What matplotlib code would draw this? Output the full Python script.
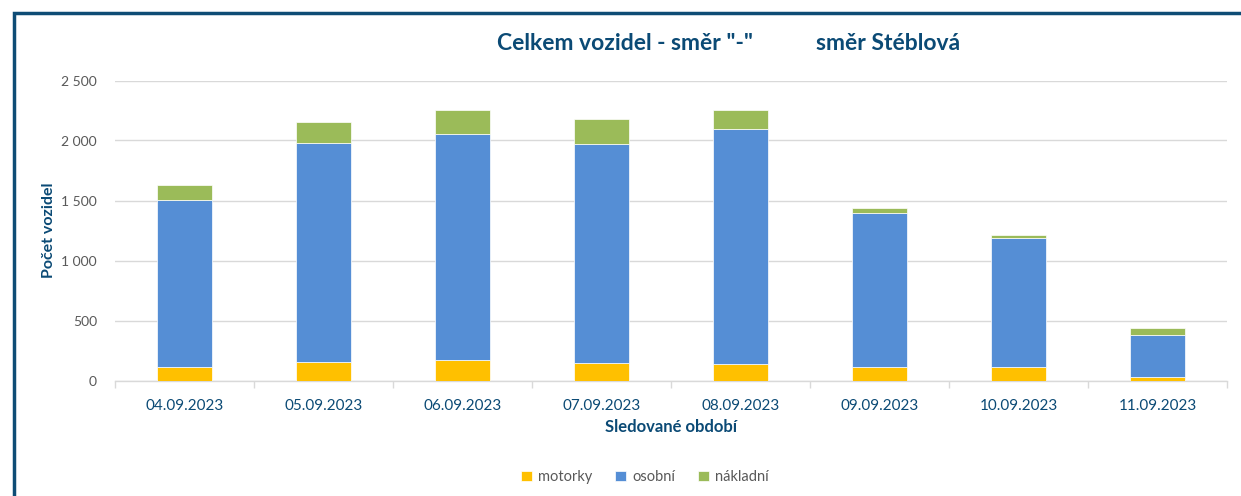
import matplotlib.pyplot as plt
from matplotlib.patches import Rectangle
import numpy as np

dates = ["04.09.2023", "05.09.2023", "06.09.2023", "07.09.2023",
         "08.09.2023", "09.09.2023", "10.09.2023", "11.09.2023"]
motorky = [110, 154, 168, 143, 137, 112, 112, 27]
osobni = [1394, 1828, 1889, 1830, 1956, 1286, 1078, 355]
nakladni = [125, 170, 197, 204, 164, 42, 25, 55]

dark_blue = "#0B4A75"
gray_txt = "#595959"
grid_col = "#d9d9d9"

plt.rcParams['font.family'] = ['Lato', 'DejaVu Sans']

fig = plt.figure(figsize=(12.41, 4.96), dpi=100)
ax = fig.add_axes([115 / 1241, 115.5 / 496, 1112 / 1241, 300 / 496])

x = np.arange(len(dates))
w = 0.4
m = np.array(motorky)
o = np.array(osobni)
n = np.array(nakladni)
ax.bar(x, m, w, color="#FFC000", edgecolor="white", linewidth=0.5, label="motorky", zorder=3)
ax.bar(x, o, w, bottom=m, color="#558ED5", edgecolor="white", linewidth=0.5, label="osobní", zorder=3)
ax.bar(x, n, w, bottom=m + o, color="#9BBB59", edgecolor="white", linewidth=0.5, label="nákladní", zorder=3)

ax.set_xlim(-0.5, len(dates) - 0.5)
ax.set_ylim(0, 2500)
ax.set_yticks(range(0, 2501, 500))
ax.set_yticklabels([f"{v:,}".replace(",", " ") for v in range(0, 2501, 500)])
ax.yaxis.grid(True, color=grid_col, linewidth=1)
ax.set_axisbelow(True)
ax.tick_params(axis="y", length=0, pad=13, labelsize=10, labelcolor=gray_txt)

ax.set_xticks(x)
ax.set_xticklabels(dates)
ax.set_xticks(np.arange(-0.5, len(dates), 1), minor=True)
ax.tick_params(axis="x", which="major", length=0, pad=13, labelsize=11, labelcolor=dark_blue)
ax.tick_params(axis="x", which="minor", length=5, color=grid_col, width=1)

for s in ["top", "right", "left"]:
    ax.spines[s].set_visible(False)
ax.spines["bottom"].set_color(grid_col)
ax.spines["bottom"].set_linewidth(1)

ax.set_xlabel("Sledované období", fontsize=12, fontweight="bold", color=dark_blue, labelpad=5)
ax.set_ylabel("Počet vozidel", fontsize=11.5, fontweight="bold", color=dark_blue, labelpad=4)

fig.text(497 / 1241, 1 - 43 / 496, 'Celkem vozidel - směr "-"',
         ha="left", va="center", fontsize=16.5, fontweight="bold", color=dark_blue)
fig.text(816 / 1241, 1 - 43 / 496, 'směr Stéblová',
         ha="left", va="center", fontsize=16.5, fontweight="bold", color=dark_blue)

ax.legend(loc="center", bbox_to_anchor=(645 / 1241, 1 - 477 / 496),
          bbox_transform=fig.transFigure, ncol=3, frameon=False,
          fontsize=10.5, labelcolor=gray_txt, handlelength=0.75, handleheight=0.75,
          handletextpad=0.4, columnspacing=1.6)

fig.patches.append(Rectangle((14 / 1241, -0.1), 1.2, 1 - 13 / 496 + 0.1,
                             transform=fig.transFigure, fill=False,
                             edgecolor="#0E4C75", linewidth=2.5))

fig.savefig("out.png", dpi=100)
